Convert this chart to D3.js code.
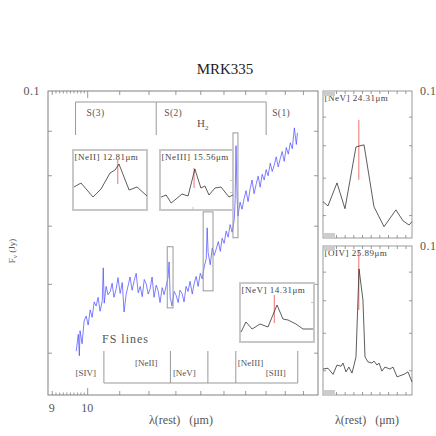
<!DOCTYPE html>
<html>
<head>
<meta charset="utf-8">
<script src="https://cdn.jsdelivr.net/npm/d3@7"></script>
<style>
	body { margin: 0; background: #fff; }
	text { font-family: "Liberation Serif", "DejaVu Serif", serif; }
</style>
</head>
<body>
<svg id="chart" width="436" height="436"></svg>
<script>
// spectrum: [rest wavelength (um), flux (Jy)]
const spectrum = [
	[9.68, 0.0502], [9.74, 0.0525], [9.77, 0.0496], [9.79, 0.0530], [9.85, 0.0512],
	[9.91, 0.0544], [9.97, 0.0551], [10.03, 0.0538], [10.09, 0.0560], [10.15, 0.0549],
	[10.21, 0.0572], [10.27, 0.0566], [10.33, 0.0579], [10.39, 0.0558], [10.46, 0.0574],
	[10.49, 0.0626], [10.52, 0.0570], [10.58, 0.0596], [10.64, 0.0583], [10.71, 0.0588],
	[10.77, 0.0601], [10.83, 0.0579], [10.90, 0.0592], [10.96, 0.0610], [11.03, 0.0585],
	[11.10, 0.0602], [11.16, 0.0557], [11.23, 0.0584], [11.30, 0.0598], [11.36, 0.0611],
	[11.43, 0.0590], [11.50, 0.0605], [11.57, 0.0617], [11.64, 0.0586], [11.71, 0.0596],
	[11.78, 0.0580], [11.85, 0.0607], [11.92, 0.0600], [11.99, 0.0584], [12.06, 0.0592],
	[12.13, 0.0611], [12.20, 0.0579], [12.28, 0.0598], [12.35, 0.0589], [12.42, 0.0571],
	[12.50, 0.0594], [12.57, 0.0583], [12.65, 0.0597], [12.72, 0.0610], [12.76, 0.0636],
	[12.80, 0.0579], [12.87, 0.0566], [12.95, 0.0588], [13.03, 0.0582], [13.11, 0.0571],
	[13.18, 0.0590], [13.26, 0.0585], [13.34, 0.0572], [13.42, 0.0596], [13.50, 0.0588],
	[13.58, 0.0604], [13.67, 0.0584], [13.75, 0.0601], [13.83, 0.0612], [13.91, 0.0596],
	[14.00, 0.0617], [14.08, 0.0608], [14.17, 0.0629], [14.25, 0.0641], [14.29, 0.0696],
	[14.33, 0.0652], [14.42, 0.0631], [14.51, 0.0660], [14.59, 0.0647], [14.68, 0.0658],
	[14.77, 0.0671], [14.86, 0.0654], [14.94, 0.0677], [15.03, 0.0668], [15.12, 0.0690],
	[15.21, 0.0679], [15.30, 0.0702], [15.39, 0.0688], [15.49, 0.0712], [15.53, 0.0750],
	[15.57, 0.0865], [15.62, 0.0752], [15.66, 0.0718], [15.76, 0.0745], [15.85, 0.0731],
	[15.95, 0.0752], [16.04, 0.0768], [16.14, 0.0746], [16.24, 0.0772], [16.33, 0.0790],
	[16.43, 0.0762], [16.53, 0.0781], [16.63, 0.0798], [16.73, 0.0775], [16.83, 0.0802],
	[16.93, 0.0790], [17.03, 0.0812], [17.13, 0.0799], [17.24, 0.0826], [17.34, 0.0808],
	[17.44, 0.0821], [17.55, 0.0840], [17.65, 0.0818], [17.76, 0.0836], [17.86, 0.0852],
	[17.97, 0.0830], [18.08, 0.0861], [18.19, 0.0846], [18.30, 0.0872], [18.41, 0.0858],
	[18.52, 0.0907], [18.63, 0.0868], [18.69, 0.0895]
]

const xTickLabels = [9, 10]
const yTickLabels = [0.1]
const xTicksMajor = [10]
const xTicksMid = [9, 11, 12, 13, 14, 15, 16, 17, 18, 19]
const xTicksSmall = [9.1, 9.2, 9.3, 9.4, 9.5, 9.6, 9.7, 9.8, 9.9]
const yTicks = [0.05, 0.06, 0.07, 0.08, 0.09]

// H2 and fine structure line positions
const h2Names = ['S(3)', 'S(2)', 'S(1)']
const h2Waves = [9.66, 12.28, 17.03]
const fsNames = ['[SIV]', '[NeII]', '[NeV]', '[NeIII]', '[SIII]']
const fsWaves = [10.51, 12.81, 14.32, 15.56, 18.71]

// boxes drawn around the lines in the main spectrum
const boxWave = [[12.69, 12.91], [14.12, 14.54], [15.43, 15.66]]
const boxFlux = [[0.0563, 0.0662], [0.0589, 0.0726], [0.0678, 0.0895]]

// zoomed line profiles
const neIIWave = [12.585, 12.621, 12.683, 12.724, 12.770, 12.796, 12.816, 12.868, 12.909, 12.960]
const neIIFlux = [0.0586, 0.0594, 0.0566, 0.0582, 0.0614, 0.0620, 0.0632, 0.0580, 0.0586, 0.0568]
const neIIIWave = [15.357, 15.388, 15.419, 15.449, 15.486, 15.523, 15.565, 15.602, 15.627, 15.652, 15.689, 15.726, 15.775, 15.800]
const neIIIFlux = [0.06825, 0.06875, 0.06675, 0.06775, 0.0690, 0.0685, 0.07525, 0.0705, 0.0710, 0.06875, 0.0705, 0.07075, 0.06825, 0.06875]
const neV14Wave = [14.126, 14.153, 14.187, 14.231, 14.275, 14.325, 14.358, 14.386, 14.430, 14.469, 14.525]
const neV14Flux = [0.0602, 0.0622, 0.0608, 0.0618, 0.0612, 0.0656, 0.0628, 0.0626, 0.0618, 0.0608, 0.0608]
const neV24Wave = [24.000, 24.043, 24.121, 24.190, 24.285, 24.320, 24.355, 24.441, 24.528, 24.631, 24.692, 24.744, 24.770]
const neV24Flux = [0.0634, 0.0623, 0.0685, 0.0616, 0.0794, 0.0798, 0.0801, 0.0621, 0.0572, 0.0613, 0.0586, 0.0576, 0.0584]
const oIVWave = [25.560, 25.606, 25.652, 25.689, 25.726, 25.744, 25.772, 25.799, 25.827, 25.846, 25.864, 25.892, 25.928, 25.947,
	25.974, 26.011, 26.030, 26.057, 26.076, 26.103, 26.131, 26.177, 26.205, 26.242, 26.306, 26.343, 26.380]
const oIVFlux = [0.0603, 0.0605, 0.0590, 0.0613, 0.0610, 0.0618, 0.0596, 0.0608, 0.0593, 0.0613, 0.0634, 0.0910, 0.0801, 0.0634,
	0.0621, 0.0618, 0.0623, 0.0613, 0.0618, 0.0598, 0.0608, 0.0603, 0.0608, 0.0584, 0.0590, 0.0596, 0.0572]


let svg = d3.select('#chart')
let grey = '#808080', txt = '#555'

let x = d3.scaleLog().domain([8.9, 19.87]).range([48, 318])
let y = d3.scaleLog().domain([0.0447, 0.1]).range([395, 91])

// ticks on all four sides, pointing inwards
const ticks = (axis, vals, size, tx, ty, col) => {
	svg.append('g').attr('transform', `translate(${tx},${ty})`)
	.call(axis.tickValues(vals).tickSize(size).tickFormat(''))
	.call(g => g.select('.domain').remove())
	.call(g => g.selectAll('line').attr('stroke', col || grey).attr('stroke-width', 0.8))
}

svg.append('rect')
.attr('x', 48).attr('y', 91).attr('width', 270).attr('height', 304)
.attr('fill', 'none').attr('stroke', grey)

ticks(d3.axisTop(x), xTicksMajor, 7, 0, 395)
ticks(d3.axisTop(x), xTicksMid, 4, 0, 395)
ticks(d3.axisTop(x), xTicksSmall, 2.5, 0, 395)
ticks(d3.axisBottom(x), xTicksMajor, 7, 0, 91)
ticks(d3.axisBottom(x), xTicksMid, 4, 0, 91)
ticks(d3.axisBottom(x), xTicksSmall, 2.5, 0, 91)
ticks(d3.axisRight(y), yTicks, 4, 48, 0)
ticks(d3.axisLeft(y), yTicks, 4, 318, 0)

svg.selectAll('.xlab').data(xTickLabels).enter()
.append('text')
.attr('x', d => x(d)).attr('y', 412)
.attr('text-anchor', 'middle').attr('font-size', 12).attr('fill', txt)
.text(d => d)

svg.selectAll('.ylab').data(yTickLabels).enter()
.append('text')
.attr('x', 40).attr('y', d => y(d) + 4)
.attr('text-anchor', 'end').attr('font-size', 12).attr('letter-spacing', 0.5).attr('fill', txt)
.text(d => d)

// spectrum
svg.append('path')
.datum(spectrum)
.attr('d', d3.line().x(d => x(d[0])).y(d => y(d[1])))
.attr('fill', 'none').attr('stroke', '#4848ff').attr('stroke-width', 0.7)

// boxes round the lines
svg.append('g').selectAll('rect')
.data(boxWave).enter()
.append('rect')
.attr('x', d => x(d[0]))
.attr('width', d => x(d[1]) - x(d[0]))
.attr('y', (d, i) => y(boxFlux[i][1]))
.attr('height', (d, i) => y(boxFlux[i][0]) - y(boxFlux[i][1]))
.attr('fill', 'none').attr('stroke', '#999').attr('stroke-width', 1)

// H2 bracket on top
let h2Top = 102, h2Bot = 135
svg.append('line')
.attr('x1', x(h2Waves[0])).attr('x2', x(h2Waves[2]))
.attr('y1', h2Top).attr('y2', h2Top).attr('stroke', '#999')
svg.append('g').selectAll('line')
.data(h2Waves).enter()
.append('line')
.attr('x1', d => x(d)).attr('x2', d => x(d))
.attr('y1', h2Top).attr('y2', h2Bot).attr('stroke', '#999')
let h2Dx = [11, 8, 6]
svg.append('g').selectAll('text')
.data(h2Names).enter()
.append('text')
.attr('x', (d, i) => x(h2Waves[i]) + h2Dx[i]).attr('y', 116)
.attr('font-size', 9.5).attr('letter-spacing', 0.4).attr('fill', txt)
.text(d => d)
let h2lab = svg.append('text').attr('x', 197).attr('y', 127)
.attr('font-size', 11).attr('fill', txt)
h2lab.append('tspan').text('H')
h2lab.append('tspan').attr('font-size', 7).attr('dy', 3).text('2')

// fine structure bracket at the bottom
let fsTop = 351, fsBot = 383
svg.append('line')
.attr('x1', x(fsWaves[0])).attr('x2', x(fsWaves[4]))
.attr('y1', fsBot).attr('y2', fsBot).attr('stroke', '#999')
svg.append('g').selectAll('line')
.data(fsWaves).enter()
.append('line')
.attr('x1', d => x(d)).attr('x2', d => x(d))
.attr('y1', fsTop).attr('y2', fsBot).attr('stroke', '#999')
let fsDx = [-8, -13, -12, 2, -12]
let fsRow = [376, 366, 376, 366, 376]
svg.append('g').selectAll('text')
.data(fsNames).enter()
.append('text')
.attr('x', (d, i) => x(fsWaves[i]) + fsDx[i]).attr('y', (d, i) => fsRow[i])
.attr('text-anchor', (d, i) => fsDx[i] > 0 ? 'start' : 'end')
.attr('font-size', 9).attr('fill', txt)
.text(d => d)
svg.append('text').attr('x', 102).attr('y', 343)
.attr('font-size', 12).attr('letter-spacing', 1).attr('fill', txt)
.text('FS lines')

// small panels with single line profiles
const panel = (box, wd, fd, waves, flux, mark, name, logY, frame) => {
	let px = d3.scaleLinear().domain(wd).range([box[0], box[0] + box[2]])
	let py = (logY ? d3.scaleLog() : d3.scaleLinear()).domain(fd).range([box[1] + box[3], box[1]])
	let g = svg.append('g')
	g.append('rect')
	.attr('x', box[0]).attr('y', box[1]).attr('width', box[2]).attr('height', box[3])
	.attr('fill', '#fff').attr('stroke', frame.col).attr('stroke-width', frame.w)
	g.append('line')
	.attr('x1', px(mark[0])).attr('x2', px(mark[0]))
	.attr('y1', py(mark[1])).attr('y2', py(mark[2]))
	.attr('stroke', '#f07070').attr('stroke-width', 1)
	g.append('path')
	.datum(waves.map((w, i) => [w, flux[i]]))
	.attr('d', d3.line().x(d => px(d[0])).y(d => py(d[1])))
	.attr('fill', 'none').attr('stroke', '#333').attr('stroke-width', 0.8)
	g.append('text').attr('x', box[0] + 1.5).attr('y', box[1] + 10)
	.attr('font-size', 9).attr('letter-spacing', 0.5).attr('fill', '#444')
	.text(name)
	return { px, py }
}

panel([73, 150, 74, 60], [12.58, 12.96], [0.054, 0.066], neIIWave, neIIFlux,
	[12.81, 0.0592, 0.0640], '[NeII] 12.81\u03bcm', false, { col: '#c8c8c8', w: 2 })
let p2 = panel([160, 150, 73, 60], [15.35, 15.80], [0.065, 0.080], neIIIWave, neIIIFlux,
	[15.56, 0.0705, 0.0755], '[NeIII] 15.56\u03bcm', false, { col: '#c8c8c8', w: 2 })
ticks(d3.axisLeft(p2.py), [0.0695, 0.0725], 3, 233, 0, '#bbb')
ticks(d3.axisTop(p2.px), [15.55], 3, 0, 210, '#bbb')
let p3 = panel([240, 283, 74, 59], [14.12, 14.53], [0.0582, 0.070], neV14Wave, neV14Flux,
	[14.31, 0.0620, 0.0676], '[NeV] 14.31\u03bcm', false, { col: '#c8c8c8', w: 2 })
ticks(d3.axisLeft(p3.py), [0.0608, 0.0662], 3, 314, 0, '#bbb')

// right hand panels
let rightPanels = [
	{ box: [323, 91, 89, 147], wd: [24.0, 24.77], fd: [0.0546, 0.1], w: neV24Wave, f: neV24Flux,
		mark: [24.31, 0.0694, 0.0888], name: '[NeV] 24.31\u03bcm', step: 0.075 },
	{ box: [323, 246, 89, 149], wd: [25.56, 26.38], fd: [0.0542, 0.1], w: oIVWave, f: oIVFlux,
		mark: [25.89, 0.0769, 0.0984], name: '[OIV] 25.89\u03bcm', step: 0.08 }
]
rightPanels.forEach(r => {
	let p = panel(r.box, r.wd, r.fd, r.w, r.f, r.mark, r.name, true, { col: '#999', w: 1 })
	let b = r.box
	let xt = d3.range(r.wd[0] + r.step / 2, r.wd[1], r.step)
	ticks(d3.axisTop(p.px), xt, 3, 0, b[1] + b[3])
	ticks(d3.axisBottom(p.px), xt, 3, 0, b[1])
	ticks(d3.axisRight(p.py), [0.06, 0.07, 0.08, 0.09], 3, b[0], 0)
	ticks(d3.axisLeft(p.py), [0.06, 0.07, 0.08, 0.09], 3, b[0] + b[2], 0)
	svg.append('rect').attr('x', b[0] + 1).attr('y', b[1]).attr('width', 11).attr('height', 5).attr('fill', '#ccc')
	svg.append('rect').attr('x', b[0] + 1).attr('y', b[1] + b[3] - 5).attr('width', 11).attr('height', 5).attr('fill', '#ccc')
	svg.append('text').attr('x', 420).attr('y', p.py(0.1) + 4)
	.attr('font-size', 12).attr('letter-spacing', 0.5).attr('fill', txt).text(yTickLabels[0])
})

// titles
svg.append('text').attr('x', 225).attr('y', 74)
.attr('text-anchor', 'middle').attr('font-size', 15).attr('fill', '#222')
.text('MRK335')

let yl = svg.append('text')
.attr('transform', 'translate(15,251) rotate(-90)')
.attr('text-anchor', 'middle').attr('font-size', 9).attr('fill', txt)
yl.append('tspan').text('F')
yl.append('tspan').attr('font-size', 7).attr('dy', 2).text('\u03bd')
yl.append('tspan').attr('dy', -2).text(' (Jy)')

svg.append('text').attr('x', 181).attr('y', 424)
.attr('text-anchor', 'middle').attr('font-size', 12).attr('fill', txt)
.attr('xml:space', 'preserve')
.text('\u03bb(rest)   (\u03bcm)')
svg.append('text').attr('x', 367).attr('y', 424)
.attr('text-anchor', 'middle').attr('font-size', 12).attr('fill', txt)
.attr('xml:space', 'preserve')
.text('\u03bb(rest)   (\u03bcm)')
</script>
</body>
</html>
